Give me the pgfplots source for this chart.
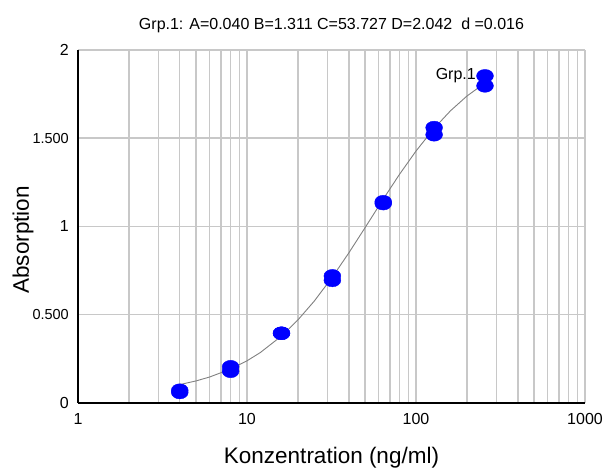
\documentclass[border=0pt]{standalone}
\usepackage{fontspec}
\setmainfont{Liberation Sans}
\usepackage{pgfplots}
\pgfplotsset{compat=1.18}
\definecolor{gridgray}{RGB}{200,200,200}
\definecolor{curvegray}{RGB}{128,128,128}
\definecolor{ptblue}{RGB}{0,0,255}
\newcommand{\bigf}{\fontsize{16}{19}\selectfont}
\newcommand{\decf}{\fontsize{14.5}{17}\selectfont}
\begin{document}
\begin{tikzpicture}
\useasboundingbox (0,0) rectangle (603pt,468pt);
\begin{axis}[
  at={(78pt,65pt)}, anchor=south west,
  scale only axis, width=507pt, height=353pt,
  xmode=log, xmin=1, xmax=1000, ymin=0, ymax=2,
  axis x line=bottom, axis y line=left,
  axis line style={-, black, line width=1.6pt},
  xtick={1,10,100,1000},
  xticklabels={1,10,100,1000},
  ytick={0,0.5,1,1.5,2},
  yticklabels={{\bigf 0},{\decf 0.500},{\bigf 1},{\decf 1.500},{\bigf 2}},
  major tick length=0pt, minor tick length=0pt,
  xmajorgrids, xminorgrids, ymajorgrids,
  grid style={gridgray, line width=1.5pt},
  minor grid style={gridgray, line width=1.5pt},
  xticklabel style={font=\bigf, anchor=north, inner sep=0pt, yshift=-10pt},
  yticklabel style={anchor=east, inner sep=0pt, xshift=-9pt},
  clip=false,
]
% fitted 4PL curve (values tabulated)
\addplot[curvegray, line width=0.9pt, no marks] coordinates {
(4,0.1043) (5,0.1252) (6,0.1470) (8,0.1923) (10,0.2389) (12,0.2861)
(16,0.3796) (20,0.4703) (25,0.5773) (32,0.7135) (40,0.8498) (50,0.9938)
(64,1.1553) (80,1.2965) (100,1.4275) (128,1.5562) (160,1.6556) (200,1.7388)
(256,1.8131)
};
% measured points
\addplot[only marks, mark=*, mark size=6.5pt, color=ptblue,
  mark options={xscale=1.3, draw=ptblue, fill=ptblue}] coordinates {
(4,0.060) (4,0.072) (8,0.180) (8,0.205) (16,0.395) (16,0.395)
(32,0.695) (32,0.720) (64,1.130) (64,1.140) (128,1.520) (128,1.560)
(256,1.797) (256,1.853)
};
\node[anchor=east, font=\bigf, inner sep=0pt, xshift=-9pt] at (axis cs:256,1.853) {Grp.1};
\node[anchor=base, font=\bigf, inner sep=0pt] at ([yshift=20pt]rel axis cs:0.5,1)
  {Grp.1: A=0.040 B=1.311 C=53.727 D=2.042\ \ d =0.016};
\node[anchor=base, font=\fontsize{22.5}{26}\selectfont, inner sep=0pt] at ([yshift=-60.5pt]rel axis cs:0.5,0)
  {Konzentration (ng/ml)};
\node[anchor=base, rotate=90, font=\fontsize{22.5}{26}\selectfont, inner sep=0pt] at ([xshift=-49pt]rel axis cs:0,0.462)
  {Absorption};
\end{axis}
\end{tikzpicture}
\end{document}
